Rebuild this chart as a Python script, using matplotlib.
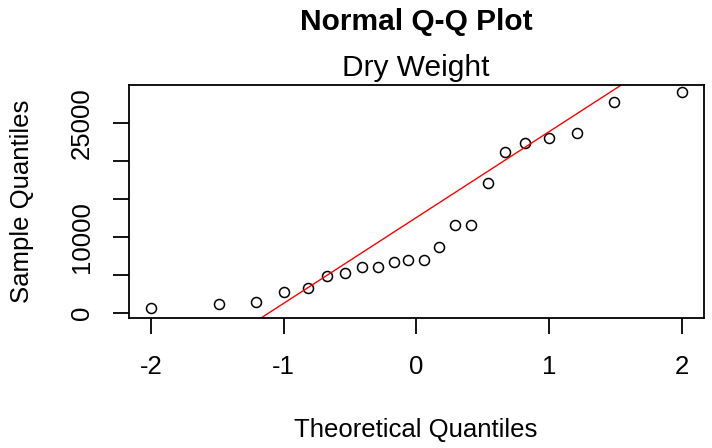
import numpy as np
import matplotlib
matplotlib.use("Agg")
import matplotlib.pyplot as plt

plt.rcParams['font.family'] = ['Liberation Sans', 'DejaVu Sans']

title = "Normal Q-Q Plot"
subtitle = "Dry Weight"
xlabel = "Theoretical Quantiles"
ylabel = "Sample Quantiles"

# theoretical quantiles
theoretical = [-2.00, -1.49, -1.21, -1.00, -0.82, -0.67, -0.54, -0.41, -0.29, -0.17, -0.06,
               0.06, 0.17, 0.29, 0.41, 0.54, 0.67, 0.82, 1.00, 1.21, 1.49, 2.00]
# sample quantiles (sorted dry weight values)
sample = [656, 1220, 1521, 2794, 3279, 4853, 5325, 6100, 6130, 6690, 6952,
          6980, 8735, 11560, 11600, 17051, 21196, 22298, 22954, 23610, 27676, 28987]

xticks = [-2, -1, 0, 1, 2]
yticks = [0, 5000, 10000, 15000, 20000, 25000]
ytick_labels = ["0", "", "10000", "", "", "25000"]

fig = plt.figure(figsize=(7.12, 4.48), dpi=100)
ax = fig.add_axes([0.1816, 0.2895, 0.9881 - 0.1816, 0.8103 - 0.2895])

ax.plot(theoretical, sample, linestyle='none', marker='o', markersize=7.2,
        markerfacecolor='none', markeredgecolor='black', markeredgewidth=1.1)

# qqline through the quartiles
s = np.array(sample, dtype=float)
q1, q3 = np.percentile(s, [25, 75])
z = 0.6744897501960817
slope = (q3 - q1) / (2 * z)
intercept = q1 + slope * z
xl = np.array([-3, 3])
ax.plot(xl, intercept + slope * xl, color='red', linewidth=1.0)

ax.set_xlim(-2.163, 2.163)
ax.set_ylim(-656, 29945)

ax.set_xticks(xticks)
ax.set_xticklabels([str(t) for t in xticks])
ax.set_yticks(yticks)
ax.set_yticklabels(ytick_labels, rotation=90, va='center')

for sp in ax.spines.values():
    sp.set_linewidth(1.3)
ax.tick_params(axis='both', length=11.5, width=1.3, labelsize=18.5, colors='black')
ax.tick_params(axis='x', pad=15)
ax.tick_params(axis='y', pad=14)

fig.text(0.584, 1 - 430 / 448, xlabel, ha='center', va='center', fontsize=18.5)
fig.text(22 / 712, 0.5 * (0.2895 + 0.8103), ylabel, ha='center', va='center',
         rotation=90, fontsize=18.5)
fig.text(0.585, 1 - 22 / 448, title, ha='center', va='center', fontsize=21.5,
         fontweight='bold')
fig.text(0.584, 1 - 68 / 448, subtitle, ha='center', va='center', fontsize=21.5)

fig.savefig("out.png", dpi=100)
